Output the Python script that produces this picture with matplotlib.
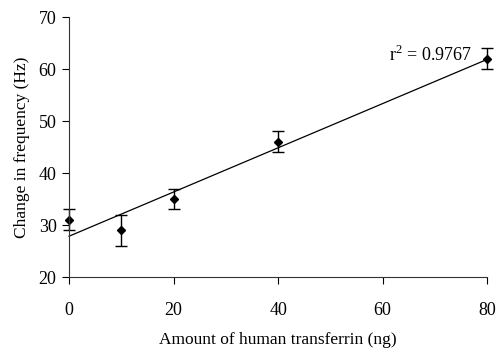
import numpy as np
import matplotlib
matplotlib.use("Agg")
import matplotlib.pyplot as plt

plt.rcParams['font.family'] = ['Liberation Serif', 'DejaVu Serif']
plt.rcParams['mathtext.fontset'] = 'custom'
plt.rcParams['mathtext.rm'] = 'Liberation Serif'

# data
amount = [0, 10, 20, 40, 80]
freq = [31, 29, 35, 46, 62]
err = [2, 3, 2, 2, 2]
x_ticks = [0, 20, 40, 60, 80]
y_ticks = [20, 30, 40, 50, 60, 70]

# linear fit
slope, intercept = np.polyfit(amount, freq, 1)
fit_x = np.array([0, 80])
fit_y = slope * fit_x + intercept

fig = plt.figure(figsize=(4.97, 3.48), dpi=100)
ax = fig.add_axes([0.139, 0.204, 0.841, 0.747])

ax.plot(fit_x, fit_y, color='black', lw=0.9)
ax.errorbar(amount, freq, yerr=err, fmt='D', color='black', ms=4.2,
            ecolor='black', elinewidth=1, capsize=4, capthick=1)

ax.text(61.2, 62.8, r'r$^{\mathrm{2}}$ = 0.9767', fontsize=13, va='center', ha='left')

ax.set_xlim(0, 80)
ax.set_ylim(20, 70)
ax.set_xticks(x_ticks)
ax.set_yticks(y_ticks)
ax.spines['top'].set_visible(False)
ax.spines['right'].set_visible(False)
ax.spines['left'].set_color('#333333')
ax.spines['bottom'].set_color('#333333')
ax.tick_params(axis='x', direction='out', length=5, pad=13, labelsize=13)
ax.tick_params(axis='y', direction='out', length=5, pad=4, labelsize=13)
ax.set_xlabel('Amount of human transferrin (ng)', fontsize=12.5, labelpad=9)
ax.set_ylabel('Change in frequency (Hz)', fontsize=12.5, labelpad=6)

for art in ax.get_children():
    try:
        art.set_clip_on(False)
    except Exception:
        pass

fig.savefig('out.png', dpi=100)
